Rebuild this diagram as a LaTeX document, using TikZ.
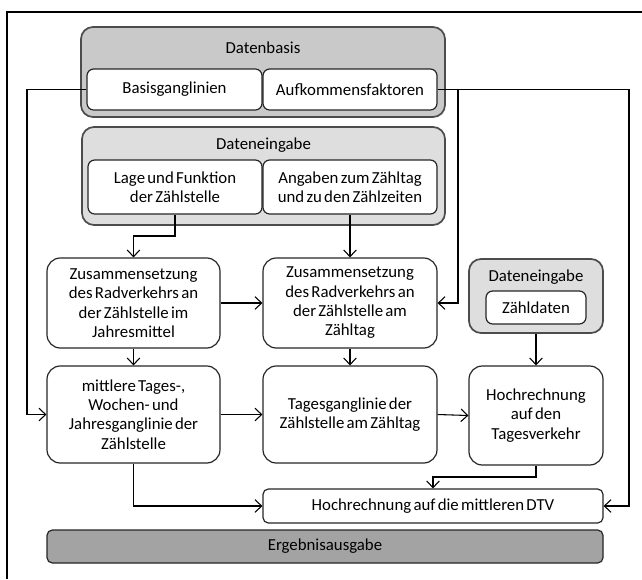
\documentclass[tikz,border=0pt]{standalone}
\usepackage{fontspec}
\setmainfont[WordSpace=0.6]{Carlito}
\usetikzlibrary{arrows.meta}
\begin{document}
\begin{tikzpicture}[x=0.75pt,y=-0.75pt,
  font=\fontsize{12.6}{14.5}\selectfont,
  container/.style={draw=black!70, line width=1.3pt, fill=#1, rounded corners=9pt, inner sep=0pt},
  container/.default={black!20},
  innerbox/.style={draw=black!85, line width=0.9pt, fill=white, rounded corners=5pt, align=center, inner sep=0pt},
  flowbox/.style={draw=black!85, line width=0.9pt, fill=white, rounded corners=10pt, align=center, inner sep=0pt},
  flatbox/.style={draw=black!85, line width=0.9pt, fill=#1, rounded corners=4pt, align=center, inner sep=0pt},
  flatbox/.default=white,
  title/.style={inner sep=0pt, align=center},
  arr/.style={-{Straight Barb[length=5pt,width=9.5pt]}, line width=0.8pt},
]
\useasboundingbox (0,0) rectangle (642,579);
% frame
\draw[line width=0.9pt] (7,579) -- (7,12) -- (642,12);

% Datenbasis
\node[container=black!21, minimum width=273pt, minimum height=67.5pt] (db) at (263,72) {};
\node[title] (dbt) at (263,48) {Datenbasis};
\node[innerbox, minimum width=131.25pt, minimum height=30.75pt] (basis) at (174.5,89.5) {Basisganglinien};
\node[innerbox, minimum width=130.5pt, minimum height=30.75pt] (aufk) at (350,89.5) {Aufkommensfaktoren};

% Dateneingabe 1
\node[container=black!13, minimum width=272.25pt, minimum height=73.5pt] (de) at (263.5,176) {};
\node[title] (det) at (263.5,145) {Dateneingabe};
\node[innerbox, minimum width=130.5pt, minimum height=40.5pt] (lage) at (175,187) {Lage und Funktion\\der Zählstelle};
\node[innerbox, minimum width=130.5pt, minimum height=40.5pt] (angaben) at (350,187) {Angaben zum Zähltag\\und zu den Zählzeiten};

% Row 1
\node[flowbox, minimum width=129.75pt, minimum height=67.5pt] (zl) at (133.5,303) {Zusammensetzung\\des Radverkehrs an\\der Zählstelle im\\Jahresmittel};
\node[flowbox, minimum width=130.5pt, minimum height=67.5pt] (zm) at (350,303) {Zusammensetzung\\des Radverkehrs an\\der Zählstelle am\\Zähltag};
\node[container=black!13, minimum width=100.5pt, minimum height=55.5pt] (de2) at (536,296) {};
\node[title] (de2t) at (536,277) {Dateneingabe};
\node[innerbox, minimum width=75pt, minimum height=24.75pt] (zaehl) at (536,307.5) {Zähldaten};

% Row 2
\node[flowbox, minimum width=129.75pt, minimum height=72.75pt] (ml) at (133.5,414.5) {mittlere Tages-,\\Wochen- und\\Jahresganglinie der\\Zählstelle};
\node[flowbox, minimum width=130.5pt, minimum height=72.75pt] (tg) at (350,414.5) {Tagesganglinie der\\Zählstelle am Zähltag};
\node[flowbox, minimum width=100.5pt, minimum height=74.25pt] (hr) at (536,415.5) {Hochrechnung\\auf den\\Tagesverkehr};

% Bottom
\node[flatbox, minimum width=255pt, minimum height=25.5pt] (dtv) at (433,506) {Hochrechnung auf die mittleren DTV};
\node[flatbox=black!36, minimum width=417pt, minimum height=24.75pt] (erg) at (325,546.5) {Ergebnisausgabe};

% connectors
\coordinate (bl) at (27,89.5);
\draw[arr] (basis.west) -- (bl) |- (ml.west);
\coordinate (ar) at (629,89.5);
\draw[arr] (aufk.east) -- (ar) |- (dtv.east);
\coordinate (ab) at (458,89.5);
\draw[arr] (ab) |- (zm.east);
\coordinate (lk) at (175,236);
\draw[arr] (lage.south) -- (lk) -| (zl.north);
\draw[arr] (angaben.south) -- (zm.north);
\draw[arr] (zl.east) -- (zm.west);
\draw[arr] (zl.south) -- (ml.north);
\draw[arr] (zm.south) -- (tg.north);
\draw[arr] (de2.south) -- (hr.north);
\draw[arr] (ml.east) -- (tg.west);
\draw[arr] (tg.east) -- (hr.west);
\draw[arr] (ml.south) |- (dtv.west);
\coordinate (hk) at (536,477);
\draw[arr] (hr.south) -- (hk) -| (dtv.north);
\end{tikzpicture}
\end{document}
